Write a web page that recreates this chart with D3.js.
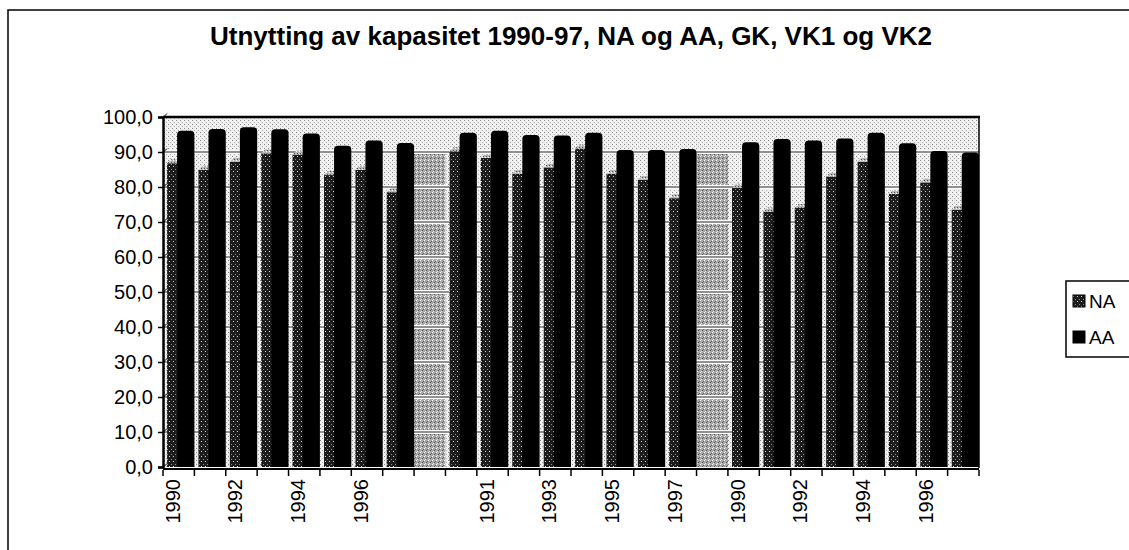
<!DOCTYPE html>
<html><head><meta charset="utf-8">
<script src="https://cdn.jsdelivr.net/npm/d3@7"></script>
<style>body{margin:0;background:#fff}</style>
</head><body><svg id="c" width="1129" height="550"></svg>
<script>
const years = ["1990","1991","1992","1993","1994","1995","1996","1997"];
const groups = ["GK","VK1","VK2"];
const naGK  = [86.8,84.9,87.2,89.6,89.3,83.4,84.9,78.5];
const aaGK  = [95.8,96.3,96.8,96.2,95.0,91.5,93.0,92.3];
const naVK1 = [90.2,88.3,83.8,85.6,91.0,83.8,82.0,76.8];
const aaVK1 = [95.2,95.8,94.6,94.4,95.2,90.3,90.3,90.6];
const naVK2 = [79.8,73.0,74.0,83.0,87.2,78.0,81.3,73.5];
const aaVK2 = [92.5,93.4,93.0,93.6,95.2,92.2,90.0,89.6];
const yTicks = [0,10,20,30,40,50,60,70,80,90,100];
const seriesNames = ["NA","AA"];
const title = "Utnytting av kapasitet 1990-97, NA og AA, GK, VK1 og VK2";

// build category table: groups separated by one empty category
const naAll = [naGK, naVK1, naVK2], aaAll = [aaGK, aaVK1, aaVK2];
const rows = [];
groups.forEach((g, gi) => {
  if (gi > 0) rows.push({label: "", na: null, aa: null});
  years.forEach((yr, i) => rows.push({label: yr, na: naAll[gi][i], aa: aaAll[gi][i]}));
});

const svg = d3.select("#c");
const W = 1129, H = 550;
const L = 163, R = 979, T = 117, B = 467;

const defs = svg.append("defs");
function pat(id, w, h, base, dots) {
  const p = defs.append("pattern").attr("id", id).attr("patternUnits", "userSpaceOnUse")
    .attr("width", w).attr("height", h);
  p.append("rect").attr("width", w).attr("height", h).attr("fill", base);
  dots.forEach(d => p.append("rect").attr("x", d[0]).attr("y", d[1]).attr("width", 1).attr("height", 1).attr("fill", d[2]));
}
pat("wall", 4, 4, "#efefef", [[0,0,"#8a8a8a"],[2,2,"#b0b0b0"],[3,0,"#ffffff"]]);
pat("gap", 4, 4, "#a8a8a8", [[0,0,"#ffffff"],[2,2,"#555"],[1,3,"#e0e0e0"],[3,1,"#666"]]);
pat("na", 4, 5, "#1c1c1c", [[1,1,"#d0d0d0"],[3,4,"#888"]]);
pat("natop", 3, 3, "#b8b8b8", [[0,0,"#555"],[2,1,"#fff"]]);

svg.append("rect").attr("width", W).attr("height", H).attr("fill", "#fff");
// outer chart frame
svg.append("rect").attr("x", 8).attr("y", 10).attr("width", W + 20).attr("height", H + 20)
  .attr("fill", "none").attr("stroke", "#000").attr("stroke-width", 1.5);

const x = d3.scaleBand().domain(d3.range(rows.length)).range([L, R]).padding(0);
const y = d3.scaleLinear().domain([0, 100]).range([B, T]);
const bw = x.bandwidth();

// wall
svg.append("rect").attr("x", L).attr("y", T).attr("width", R - L).attr("height", B - T).attr("fill", "url(#wall)");
// empty categories show darker wall
svg.append("g").selectAll("rect").data(rows.map((r, i) => ({r, i})).filter(d => d.r.na === null))
  .join("rect").attr("x", d => x(d.i)).attr("y", y(90)).attr("width", bw).attr("height", y(0) - y(90))
  .attr("fill", "url(#gap)");

// gridlines
const grid = svg.append("g");
yTicks.filter(v => v > 0 && v < 100).forEach(v => {
  grid.append("line").attr("x1", L).attr("x2", R).attr("y1", y(v)).attr("y2", y(v))
    .attr("stroke", "#fff").attr("stroke-width", 4);
  grid.append("line").attr("x1", L).attr("x2", R).attr("y1", y(v)).attr("y2", y(v))
    .attr("stroke", "#222").attr("stroke-width", 1);
});

// bars
const d3d = 4;
const gBars = svg.append("g");
rows.forEach((r, i) => {
  if (r.na === null) return;
  const x0 = x(i);
  const nx = x0 + 0.13 * bw, nw = 0.42 * bw;
  const ax = x0 + 0.45 * bw, aw = 0.55 * bw;
  const ny = y(r.na), ay = y(r.aa);
  gBars.append("rect").attr("x", nx).attr("y", ny).attr("width", nw).attr("height", y(0) - ny).attr("fill", "url(#na)");
  gBars.append("path").attr("d", `M${nx},${ny}L${nx + nw},${ny}L${nx + nw + d3d},${ny - d3d}L${nx + d3d},${ny - d3d}Z`)
    .attr("fill", "url(#natop)");
  gBars.append("path").attr("d", `M${ax},${y(0)}L${ax},${ay + 3}Q${ax},${ay - 1} ${ax + 4},${ay - 1}L${ax + aw - 4},${ay - 1}Q${ax + aw},${ay - 1} ${ax + aw},${ay + 3}L${ax + aw},${y(0)}Z`)
    .attr("fill", "#000");
});

// frame lines
svg.append("line").attr("x1", L).attr("x2", R + 1).attr("y1", T).attr("y2", T).attr("stroke", "#000").attr("stroke-width", 2.5);
svg.append("line").attr("x1", R).attr("x2", R).attr("y1", T).attr("y2", B + 1).attr("stroke", "#000").attr("stroke-width", 1.5);
svg.append("line").attr("x1", L).attr("x2", R).attr("y1", B + 2).attr("y2", B + 2).attr("stroke", "#000").attr("stroke-width", 2);

// y axis
const yAxis = d3.axisLeft(y).tickValues(yTicks).tickSize(5).tickPadding(5)
  .tickFormat(d => d3.format(".1f")(d).replace(".", ","));
const gy = svg.append("g").attr("transform", `translate(${L},0)`).call(yAxis);
gy.select(".domain").attr("stroke", "#000").attr("stroke-width", 2.5);
gy.selectAll(".tick line").attr("stroke", "#000").attr("stroke-width", 1.5);
gy.selectAll(".tick text").attr("font-family", "Liberation Sans, Arial, sans-serif").attr("font-size", 20).attr("fill", "#000");
gy.selectAll(".tick").append("line").attr("x1", 0).attr("x2", 4).attr("y1", 0).attr("y2", -4).attr("stroke", "#000");

// x axis ticks at category boundaries
const gx = svg.append("g");
d3.range(rows.length + 1).forEach(i => {
  const xx = i < rows.length ? x(i) : R;
  gx.append("line").attr("x1", xx).attr("x2", xx).attr("y1", B + 3).attr("y2", B + 9).attr("stroke", "#000").attr("stroke-width", 1.5);
});
gx.selectAll("text").data(rows.map((r, i) => ({r, i})).filter(d => d.i % 2 === 0 && d.r.label))
  .join("text")
  .attr("transform", d => `translate(${x(d.i) + bw / 2 - 6},${B + 12}) rotate(-90)`)
  .attr("text-anchor", "end").attr("dy", "0.35em")
  .attr("font-family", "Liberation Sans, Arial, sans-serif").attr("font-size", 20)
  .text(d => d.r.label);

// title
svg.append("text").attr("x", 571).attr("y", 45).attr("text-anchor", "middle")
  .attr("font-family", "Liberation Sans, Arial, sans-serif").attr("font-weight", "bold").attr("font-size", 26)
  .text(title);

// legend
const lg = svg.append("g");
lg.append("rect").attr("x", 1066).attr("y", 281).attr("width", 100).attr("height", 76)
  .attr("fill", "#fff").attr("stroke", "#000").attr("stroke-width", 1.5);
const legFill = ["url(#na)", "#000"];
seriesNames.forEach((s, i) => {
  const cy = 301 + i * 36;
  lg.append("rect").attr("x", 1073).attr("y", cy - 6).attr("width", 12).attr("height", 12)
    .attr("fill", legFill[i]).attr("stroke", "#000").attr("stroke-width", 1);
  lg.append("text").attr("x", 1089).attr("y", cy).attr("dy", "0.35em")
    .attr("font-family", "Liberation Sans, Arial, sans-serif").attr("font-size", 19).text(s);
});
</script></body></html>
